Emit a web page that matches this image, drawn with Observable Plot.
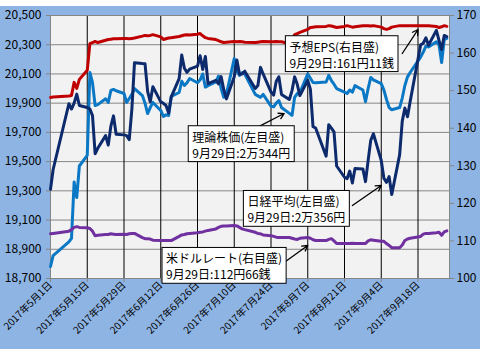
<!DOCTYPE html>
<html><head><meta charset="utf-8">
<script src="https://cdn.jsdelivr.net/npm/d3@7"></script>
<script src="https://cdn.jsdelivr.net/npm/@observablehq/plot@0.6"></script>
<style>
body{margin:0;background:#fff;}
#chart{padding-top:6px;}
#chart svg{display:block;background:#8EB4E3;overflow:visible;}
</style></head><body><div id="chart"></div>
<script>
const dates = [
"2017-05-01","2017-05-02","2017-05-08","2017-05-09","2017-05-10","2017-05-11","2017-05-12","2017-05-15","2017-05-16","2017-05-17","2017-05-18","2017-05-19","2017-05-22","2017-05-23","2017-05-24","2017-05-25","2017-05-26","2017-05-29","2017-05-30","2017-05-31",
"2017-06-01","2017-06-02","2017-06-05","2017-06-06","2017-06-07","2017-06-08","2017-06-09","2017-06-12","2017-06-13","2017-06-14","2017-06-15","2017-06-16","2017-06-19","2017-06-20","2017-06-21","2017-06-22","2017-06-23","2017-06-26","2017-06-27","2017-06-28","2017-06-29","2017-06-30",
"2017-07-03","2017-07-04","2017-07-05","2017-07-06","2017-07-07","2017-07-10","2017-07-11","2017-07-12","2017-07-13","2017-07-14","2017-07-18","2017-07-19","2017-07-20","2017-07-21","2017-07-24","2017-07-25","2017-07-26","2017-07-27","2017-07-28","2017-07-31",
"2017-08-01","2017-08-02","2017-08-03","2017-08-04","2017-08-07","2017-08-08","2017-08-09","2017-08-10","2017-08-14","2017-08-15","2017-08-16","2017-08-17","2017-08-18","2017-08-21","2017-08-22","2017-08-23","2017-08-24","2017-08-25","2017-08-28","2017-08-29","2017-08-30","2017-08-31",
"2017-09-01","2017-09-04","2017-09-05","2017-09-06","2017-09-07","2017-09-08","2017-09-11","2017-09-12","2017-09-13","2017-09-14","2017-09-15","2017-09-19","2017-09-20","2017-09-21","2017-09-22","2017-09-25","2017-09-26","2017-09-27","2017-09-28","2017-09-29"];

// 日経平均 (left axis)
const nikkei = [
19310,19446,19896,19860,19900,19962,19884,19870,19860,19815,19554,19591,19678,19613,19743,19813,19687,19683,19678,19651,
19860,20177,20171,20170,19980,19909,20013,19909,19899,19884,19832,19943,20068,20230,20139,20111,20133,20153,20225,20130,20220,20033,
20056,20032,20082,19994,19929,20081,20195,20098,20100,20119,20001,20021,20145,20100,19976,19955,20050,20080,19960,19925,
19986,20080,20029,19952,20056,19996,19739,19730,19537,19753,19729,19703,19470,19393,19384,19435,19354,19453,19450,19363,19507,19646,
19691,19508,19386,19358,19397,19275,19546,19777,19866,19807,19910,20299,20310,20347,20296,20398,20330,20267,20363,20356];

// 理論株価 (left axis)
const theory = [
18782,18857,18950,18975,19360,19254,19470,19542,20110,20041,19884,19890,19930,19905,19987,19994,19985,19966,19905,19932,
19960,20000,19952,19900,19829,19870,19905,19850,19809,19820,19815,19946,19973,20050,20021,20040,20069,20040,20060,20100,20010,20020,
20045,20085,20000,19940,19960,20206,20120,20090,20110,20100,19960,19950,19940,19960,19880,19875,19900,19918,19870,19830,
19816,19940,19966,19970,20100,20070,20041,20040,20045,20090,20055,20030,20000,19975,19966,19990,19975,20020,19990,19910,20000,20076,
20060,20034,19990,19925,19870,19855,19870,19935,20021,20080,20110,20215,20250,20290,20285,20320,20300,20178,20336,20344];

// 予想EPS (right axis)
const eps = [
148.2,148.3,148.6,148.7,152.2,150.6,153.0,155.4,162.5,162.8,163.1,162.8,163.4,163.6,163.7,163.8,163.8,163.9,163.9,163.8,
163.9,164.0,164.5,164.7,164.6,164.7,164.9,164.3,163.6,163.8,164.0,164.1,164.4,164.6,164.8,164.9,164.8,165.0,165.2,164.6,164.1,163.9,
163.6,163.3,163.0,162.8,162.9,163.1,163.0,163.1,163.0,162.9,162.8,162.9,163.0,163.1,163.0,163.0,163.1,163.0,163.0,162.5,
163.5,164.9,165.2,165.5,166.3,166.8,166.9,167.0,167.1,167.3,167.2,167.0,166.8,167.1,167.3,167.1,166.9,167.0,167.3,167.3,167.3,167.2,
167.3,166.9,166.5,166.3,166.5,166.9,167.3,167.3,167.3,167.3,167.3,167.3,167.3,167.3,167.3,167.1,166.8,167.0,167.3,167.1];

// 米ドルレート (right axis)
const usdjpy = [
111.9,112.0,112.6,113.0,113.6,113.8,113.6,113.5,113.3,112.6,111.4,111.5,111.7,111.7,111.9,111.8,111.7,111.8,111.7,111.9,
112.0,112.0,110.9,110.6,110.6,110.5,110.2,110.1,110.1,110.1,110.1,110.1,111.2,111.6,111.7,111.9,112.0,112.2,112.3,112.4,112.6,112.8,
113.2,113.6,113.9,114.0,114.0,114.1,114.0,113.6,113.2,113.0,112.3,112.0,111.9,111.6,111.4,111.2,111.0,110.9,110.9,110.9,
110.7,110.5,110.4,110.7,110.9,110.7,110.3,110.1,110.1,110.4,110.6,110.0,109.3,109.3,109.3,109.3,109.4,109.3,109.3,109.3,110.0,110.3,
110.2,109.9,109.9,109.3,108.8,108.2,108.2,108.9,110.1,110.5,110.7,111.2,111.8,112.0,112.0,112.2,112.3,111.5,112.4,112.7];

const leftTicks = [18700,18900,19100,19300,19500,19700,19900,20100,20300,20500];
const rightTicks = [100,110,120,130,140,150,160,170];
const xTicks = ["2017-05-01","2017-05-15","2017-05-29","2017-06-12","2017-06-26","2017-07-10","2017-07-24","2017-08-07","2017-08-21","2017-09-04","2017-09-18"];

const notes = [
  {date:"2017-07-31", value:20329, text:"予想EPS(右目盛)\n9月29日:161円11銭"},
  {date:"2017-06-24", value:19713, text:"理論株価(左目盛)\n9月29日:2万344円"},
  {date:"2017-07-15", value:19270, text:"日経平均(左目盛)\n9月29日:2万356円"},
  {date:"2017-06-14", value:18880, text:"米ドルレート(右目盛)\n9月29日:112円66銭"}
];
const arrows = [
  {d1:"2017-09-12", v1:20240, d2:"2017-09-18", v2:20404},
  {d1:"2017-07-18", v1:19727, d2:"2017-07-29", v2:19829},
  {d1:"2017-08-24", v1:19200, d2:"2017-09-04", v2:19337},
  {d1:"2017-07-29", v1:18810, d2:"2017-08-07", v2:18926}
];

const L0 = 18700, L1 = 20500, R0 = 100, R1 = 170;
const toLeft = r => L0 + (r - R0) * (L1 - L0) / (R1 - R0);
const fromLeft = l => R0 + (l - L0) * (R1 - R0) / (L1 - L0);

const table = dates.map((d, i) => ({
  date: new Date(d), nikkei: nikkei[i], theory: theory[i], eps: eps[i], usd: usdjpy[i]
}));
const noteData = notes.map(n => ({...n, date: new Date(n.date)}));
const arrowData = arrows.map(a => ({...a, d1: new Date(a.d1), d2: new Date(a.d2)}));
const xTickDates = xTicks.map(d => new Date(d));
const fmtDate = d => `${d.getUTCFullYear()}年${d.getUTCMonth()+1}月${d.getUTCDate()}日`;

const chart = Plot.plot({
  width: 480, height: 343,
  marginTop: 9, marginBottom: 71, marginLeft: 50, marginRight: 31,
  style: {fontFamily: "'Noto Sans CJK JP', 'Noto Sans', sans-serif", fontSize: "12px", color: "#000", background: "#8EB4E3", overflow: "visible"},
  x: {type: "utc", domain: [new Date("2017-05-01"), new Date("2017-09-30")]},
  y: {domain: [L0, L1]},
  marks: [
    Plot.frame({fill: "#F2F2F2", stroke: null}),
    Plot.ruleY(leftTicks, {stroke: "#868686", strokeWidth: 1}),
    Plot.ruleX(xTickDates.slice(1), {stroke: "#000", strokeWidth: 1}),
    Plot.frame({stroke: "#868686"}),
    Plot.lineY(table, {x: "date", y: "theory", stroke: "#0B78C6", strokeWidth: 3, strokeLinejoin: "round"}),
    Plot.lineY(table, {x: "date", y: "nikkei", stroke: "#0C2A6C", strokeWidth: 3, strokeLinejoin: "round"}),
    Plot.lineY(table, {x: "date", y: d => toLeft(d.usd), stroke: "#7030A0", strokeWidth: 3, strokeLinejoin: "round"}),
    Plot.lineY(table, {x: "date", y: d => toLeft(d.eps), stroke: "#C00000", strokeWidth: 3, strokeLinejoin: "round"}),
    Plot.axisY(leftTicks, {anchor: "left", tickFormat: () => "", tickSize: 4, stroke: "#868686", label: null}),
    Plot.text(leftTicks, {y: d => d, text: d3.format(","), frameAnchor: "left", textAnchor: "end", dx: -9, fontSize: 12, fill: "#000", ariaLabel: "left-labels"}),
    Plot.axisY(rightTicks.map(toLeft), {anchor: "right", tickFormat: d => Math.round(fromLeft(d)), tickSize: 4, tickPadding: 3, stroke: "#868686", fill: "#000", fontSize: 12, label: null}),
    Plot.axisX(xTickDates, {anchor: "bottom", tickFormat: fmtDate, tickRotate: -45, tickSize: 4, tickPadding: 1, stroke: "#868686", fill: "#000", fontSize: 10, label: null}),
    Plot.arrow(arrowData, {x1: "d1", y1: "v1", x2: "d2", y2: "v2", stroke: "#000", strokeWidth: 1.3, headLength: 7}),
    Plot.text(noteData, {x: "date", y: "value", text: "text", textAnchor: "start", lineAnchor: "top", fontSize: 12, lineHeight: 1.32, fill: "#000", ariaLabel: "notes"})
  ]
});
document.getElementById("chart").appendChild(chart);

// white boxes behind annotation text
const ns = "http://www.w3.org/2000/svg";
const texts = Array.from(chart.querySelectorAll("text")).filter(t => t.textContent.includes("9月29日"));
texts.forEach(t => {
  const b = t.getBBox();
  const r = document.createElementNS(ns, "rect");
  r.setAttribute("x", b.x - 4); r.setAttribute("y", b.y - 2);
  r.setAttribute("width", b.width + 8); r.setAttribute("height", b.height + 3);
  r.setAttribute("fill", "#fff"); r.setAttribute("stroke", "#000"); r.setAttribute("stroke-width", 1);
  const tr = t.getAttribute("transform");
  if (tr) r.setAttribute("transform", tr);
  t.parentNode.insertBefore(r, t);
});
</script></body></html>
